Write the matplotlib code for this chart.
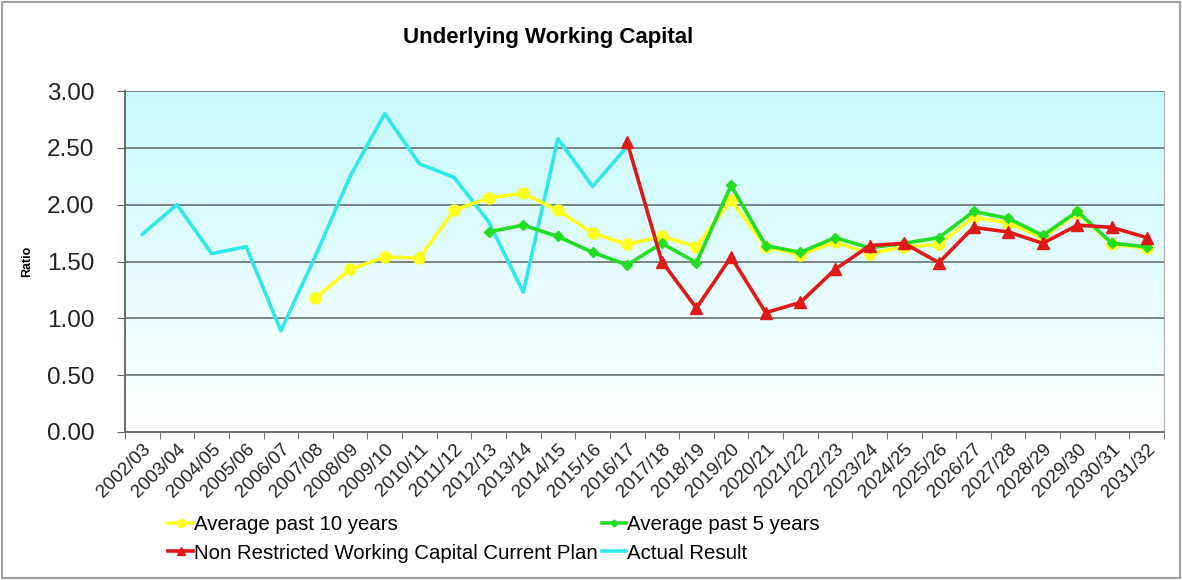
import matplotlib.pyplot as plt
import numpy as np
from matplotlib.patches import Rectangle

plt.rcParams['font.family'] = ['Liberation Sans', 'DejaVu Sans']

years = ["2002/03", "2003/04", "2004/05", "2005/06", "2006/07", "2007/08", "2008/09",
         "2009/10", "2010/11", "2011/12", "2012/13", "2013/14", "2014/15", "2015/16",
         "2016/17", "2017/18", "2018/19", "2019/20", "2020/21", "2021/22", "2022/23",
         "2023/24", "2024/25", "2025/26", "2026/27", "2027/28", "2028/29", "2029/30",
         "2030/31", "2031/32"]

nan = np.nan
actual = [1.74, 2.00, 1.57, 1.63, 0.89, 1.55, 2.25, 2.80, 2.36, 2.24, 1.85, 1.23,
          2.58, 2.16, 2.51] + [nan] * 15
avg10 = [nan] * 5 + [1.18, 1.43, 1.54, 1.53, 1.95, 2.06, 2.10, 1.95, 1.75, 1.65,
                     1.72, 1.63, 2.04, 1.63, 1.56, 1.67, 1.57, 1.63, 1.65, 1.89,
                     1.84, 1.71, 1.93, 1.65, 1.62]
avg5 = [nan] * 10 + [1.76, 1.82, 1.72, 1.58, 1.47, 1.66, 1.49, 2.17, 1.64, 1.58,
                     1.71, 1.62, 1.66, 1.71, 1.94, 1.88, 1.73, 1.94, 1.66, 1.63]
plan = [nan] * 14 + [2.55, 1.50, 1.09, 1.54, 1.05, 1.14, 1.43, 1.64, 1.66, 1.49,
                     1.80, 1.76, 1.66, 1.82, 1.80, 1.71]

fig = plt.figure(figsize=(11.82, 5.80), dpi=100)
ax = fig.add_axes([125 / 1182, 1 - 432 / 580, 1039 / 1182, 341 / 580])

x = np.arange(len(years))

# gradient background, light cyan at top fading to white
grad = np.linspace(0, 1, 256).reshape(-1, 1)
top = np.array([0.78, 0.98, 0.99])
bot = np.array([1.0, 1.0, 1.0])
img = bot + (top - bot) * grad
ax.imshow(img[:, None, :].repeat(2, axis=1), extent=[-0.5, len(years) - 0.5, 0, 3],
          origin='lower', aspect='auto', zorder=0)

for v in np.arange(0.5, 3.01, 0.5):
    ax.axhline(v, color='#687070', lw=1.2, zorder=1)

lw = 2.6
l10, = ax.plot(x, avg10, color='#ffff20', lw=lw, marker='o', ms=8, zorder=3)
l5, = ax.plot(x, avg5, color='#22dd22', lw=lw, marker='D', ms=5, zorder=4)
lp, = ax.plot(x, plan, color='#e01818', lw=lw, marker='^', ms=9, zorder=5)
la, = ax.plot(x, actual, color='#30e8e8', lw=lw, zorder=2)

ax.set_xlim(-0.5, len(years) - 0.5)
ax.set_ylim(0, 3)
ax.set_yticks(np.arange(0, 3.01, 0.5))
ax.set_yticklabels([f"{v:.2f}" for v in np.arange(0, 3.01, 0.5)], fontsize=17.5, color='#222222')
ax.set_xticks(x)
ax.set_xticklabels(years, rotation=45, ha='right', rotation_mode='anchor', fontsize=13.5,
                   color='#222222')
ax.set_xticks(np.arange(-0.5, len(years)), minor=True)
ax.tick_params(axis='x', which='major', length=0, pad=6)
ax.tick_params(axis='x', which='minor', length=5, color='#606060', direction='out')
ax.tick_params(axis='y', length=6, color='#606060', direction='out', pad=16)

for s in ['left', 'bottom']:
    ax.spines[s].set_color('#606060')
    ax.spines[s].set_linewidth(1.3)
ax.spines['top'].set_visible(False)
ax.spines['right'].set_color('#b0b0b0')

ax.set_ylabel('Ratio', fontsize=9, fontweight='bold', labelpad=10)
fig.text(548 / 1182, 1 - 38 / 580, 'Underlying Working Capital', fontsize=16,
         fontweight='bold', ha='center', va='center')

fig.legend([l10, lp, l5, la],
           ['Average past 10 years', 'Non Restricted Working Capital Current Plan',
            'Average past 5 years', 'Actual Result'],
           loc='upper left', bbox_to_anchor=(150 / 1182, 1 - 497 / 580), ncol=2,
           frameon=False, fontsize=14.7, handlelength=1.2, handletextpad=0.05,
           columnspacing=0.2, labelspacing=0.45, markerscale=0.7)

fig.patches.append(Rectangle((2 / 1182, 2 / 580), 1 - 4 / 1182, 1 - 4 / 580,
                             transform=fig.transFigure, fill=False, ec='#a0a0a0', lw=1.5))

fig.savefig('out.png', dpi=100)
